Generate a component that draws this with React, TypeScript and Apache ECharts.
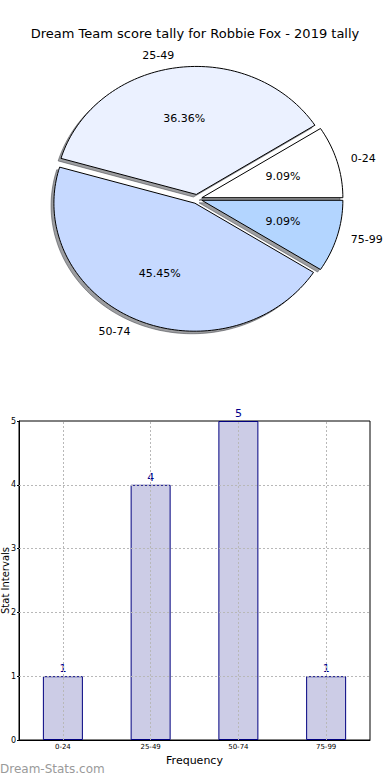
import React, { useEffect, useRef } from "react";
import * as echarts from "echarts";

const chartTitle = "Dream Team score tally for Robbie Fox - 2019 tally";
const categories = ["0-24", "25-49", "50-74", "75-99"];
const counts = [1, 4, 5, 1];
const pieColors = ["#ffffff", "#ebf1ff", "#c6d9ff", "#b3d5ff"];
const gridValues = [1, 2, 3, 4];
const xAxisName = "Frequency";
const yAxisName = "Stat Intervals";
const watermark = "Dream-Stats.com";

const FONT = "DejaVu Sans";
const PIE = { cx: 197, cy: 199, rx: 141, ry: 128, explode: 0.036, shadow: 0.02 };

function wedgeGeom(i: number) {
  const total = counts.reduce((a, b) => a + b, 0);
  let before = 0;
  for (let k = 0; k < i; k++) before += counts[k];
  const t1 = (before / total) * 2 * Math.PI;
  const t2 = ((before + counts[i]) / total) * 2 * Math.PI;
  const mid = (t1 + t2) / 2;
  const ox = PIE.cx + PIE.explode * PIE.rx * Math.cos(mid);
  const oy = PIE.cy - PIE.explode * PIE.ry * Math.sin(mid);
  return { t1, t2, mid, ox, oy, pct: (counts[i] / total) * 100 };
}

function wedgePoints(ox: number, oy: number, t1: number, t2: number) {
  const pts: number[][] = [[ox, oy]];
  const n = Math.max(8, Math.ceil((t2 - t1) / (Math.PI / 120)));
  for (let j = 0; j <= n; j++) {
    const t = t1 + ((t2 - t1) * j) / n;
    pts.push([ox + PIE.rx * Math.cos(t), oy - PIE.ry * Math.sin(t)]);
  }
  return pts;
}

export default function App() {
  const ref = useRef<HTMLDivElement>(null);
  useEffect(() => {
    document.body.style.margin = "0";
    const chart = echarts.init(ref.current!, null, { renderer: "svg" });
    const option: any = {
      animation: false,
      backgroundColor: "#ffffff",
      textStyle: { fontFamily: FONT },
      title: {
        text: chartTitle,
        left: "center",
        top: 22,
        textStyle: { fontFamily: FONT, fontSize: 13, fontWeight: "normal", color: "#000" },
      },
      graphic: [
        {
          type: "text",
          left: 0,
          top: 763,
          style: { text: watermark, fontFamily: FONT, fontSize: 12, fontWeight: "normal", fill: "#9a9a9a" },
        },
      ],
      grid: {
        left: 19,
        right: 20,
        top: 421,
        bottom: 40,
        containLabel: false,
        outerBoundsMode: "none",
        show: true,
        borderColor: "#000",
        borderWidth: 1,
        backgroundColor: "transparent",
      },
      xAxis: {
        type: "category",
        data: categories,
        boundaryGap: true,
        name: xAxisName,
        nameLocation: "middle",
        nameGap: 15,
        nameMoveOverlap: false,
        nameTextStyle: { fontFamily: FONT, fontSize: 11, color: "#000" },
        axisLine: { lineStyle: { color: "#000" } },
        axisTick: { show: false },
        axisLabel: { fontFamily: FONT, fontSize: 7, color: "#000", margin: 3 },
        splitLine: { show: false },
      },
      yAxis: {
        type: "value",
        min: 0,
        max: 5,
        interval: 1,
        name: yAxisName,
        nameLocation: "middle",
        nameGap: 9,
        nameMoveOverlap: false,
        nameTextStyle: { fontFamily: FONT, fontSize: 10, color: "#000" },
        axisLine: { show: true, lineStyle: { color: "#000" } },
        axisTick: { show: true, length: 2, lineStyle: { color: "#000" } },
        axisLabel: { fontFamily: FONT, fontSize: 8, color: "#000", margin: 3 },
        splitLine: { show: false },
      },
      series: [
        {
          type: "custom",
          coordinateSystem: "none",
          z: 1,
          silent: true,
          data: counts,
          renderItem: (params: any) => {
            const g = wedgeGeom(params.dataIndex);
            const sx = -PIE.shadow * PIE.rx;
            const sy = PIE.shadow * PIE.ry;
            return {
              type: "polygon",
              shape: { points: wedgePoints(g.ox + sx, g.oy + sy, g.t1, g.t2) },
              style: { fill: "rgba(60,62,68,0.5)", stroke: "rgba(60,62,68,0.5)", lineWidth: 1 },
            };
          },
        },
        {
          type: "custom",
          coordinateSystem: "none",
          z: 2,
          silent: true,
          data: counts,
          renderItem: (params: any) => {
            const i = params.dataIndex;
            const g = wedgeGeom(i);
            const lx = g.ox + 1.1 * PIE.rx * Math.cos(g.mid);
            const ly = g.oy - 1.1 * PIE.ry * Math.sin(g.mid);
            const px = g.ox + 0.6 * PIE.rx * Math.cos(g.mid);
            const py = g.oy - 0.6 * PIE.ry * Math.sin(g.mid);
            return {
              type: "group",
              children: [
                {
                  type: "polygon",
                  shape: { points: wedgePoints(g.ox, g.oy, g.t1, g.t2) },
                  style: { fill: pieColors[i], stroke: "#000", lineWidth: 1 },
                },
                {
                  type: "text",
                  x: lx,
                  y: ly,
                  style: {
                    text: categories[i],
                    fontFamily: FONT,
                    fontSize: 11,
                    fill: "#000",
                    align: Math.cos(g.mid) > 0 ? "left" : "right",
                    verticalAlign: "middle",
                  },
                },
                {
                  type: "text",
                  x: px,
                  y: py,
                  style: {
                    text: g.pct.toFixed(2) + "%",
                    fontFamily: FONT,
                    fontSize: 11,
                    fill: "#000",
                    align: "center",
                    verticalAlign: "middle",
                  },
                },
              ],
            };
          },
        },
        {
          type: "bar",
          data: counts,
          barWidth: 40,
          z: 3,
          itemStyle: { color: "rgba(0,0,128,0.2)", borderColor: "#000080", borderWidth: 1 },
          label: {
            show: true,
            position: "top",
            distance: 2,
            fontFamily: FONT,
            fontSize: 11,
            color: "#00008b",
          },
          markLine: {
            silent: true,
            symbol: ["none", "none"],
            label: { show: false },
            lineStyle: { color: "#b8b8b8", type: [2, 2], width: 1 },
            data: [
              ...categories.map((c) => ({ xAxis: c })),
              ...gridValues.map((v) => ({ yAxis: v })),
            ],
          },
        },
      ],
    };
    chart.setOption(option);
    return () => chart.dispose();
  }, []);
  return <div ref={ref} style={{ width: 390, height: 780 }} />;
}
